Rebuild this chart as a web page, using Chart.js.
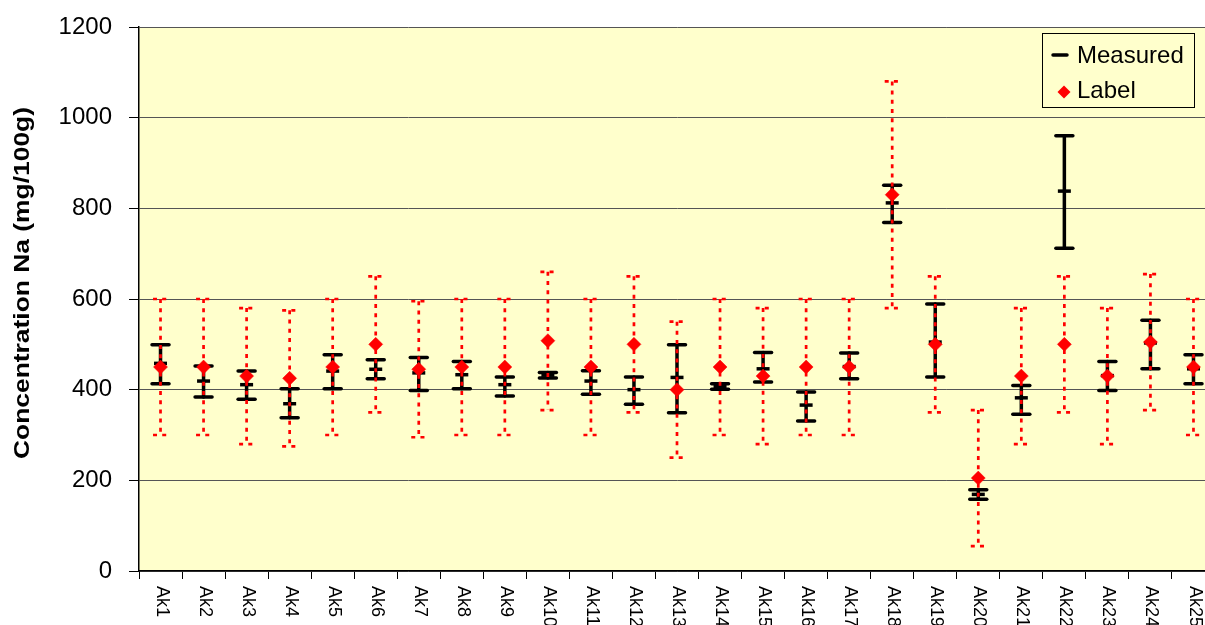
<!DOCTYPE html>
<html>
<head>
<meta charset="utf-8">
<script src="https://cdn.jsdelivr.net/npm/chart.js@4.4.1/dist/chart.umd.min.js"></script>
<style>
  html, body { margin: 0; padding: 0; background: #fff; overflow: hidden; width: 1205px; height: 625px; }
  #wrap { position: absolute; left: 0; top: 0; width: 1225px; height: 640px; }
</style>
</head>
<body>
<div id="wrap"><canvas id="chart" width="1225" height="640"></canvas></div>
<script>
// Samples
const categories = ['Ak1','Ak2','Ak3','Ak4','Ak5','Ak6','Ak7','Ak8','Ak9','Ak10','Ak11','Ak12','Ak13',
  'Ak14','Ak15','Ak16','Ak17','Ak18','Ak19','Ak20','Ak21','Ak22','Ak23','Ak24','Ak25'];

// Measured sodium (mg/100g) with its uncertainty interval
const measured     = [458, 419, 411, 369, 441, 445, 437, 433, 411, 432, 419, 400, 427,
                      407, 446, 366, 451, 812, 505, 169, 382, 838, 431, 503, 446];
const measuredLow  = [413, 384, 379, 338, 402, 424, 398, 402, 386, 426, 390, 368, 349,
                      401, 417, 331, 424, 769, 428, 158, 346, 712, 398, 446, 413];
const measuredHigh = [499, 452, 441, 402, 477, 466, 471, 462, 428, 438, 442, 428, 499,
                      413, 482, 395, 481, 851, 589, 179, 409, 960, 462, 553, 477];

// Declared (label) value with its tolerance range
const labelValues  = [450, 450, 430, 425, 450, 500, 445, 450, 450, 508, 450, 500, 400,
                      450, 430, 450, 450, 830, 500, 205, 430, 500, 430, 505, 450];
const labelLow     = [300, 300, 280, 275, 300, 350, 295, 300, 300, 355, 300, 350, 250,
                      300, 280, 300, 300, 580, 350, 55, 280, 350, 280, 355, 300];
const labelHigh    = [600, 600, 580, 575, 600, 650, 595, 600, 600, 660, 600, 650, 550,
                      600, 580, 600, 600, 1080, 650, 355, 580, 650, 580, 655, 600];

const yMin = 0, yMax = 1200, yStep = 200;
const yTitle = 'Concentration Na (mg/100g)';

Chart.defaults.font.family = "'Liberation Sans', Arial, sans-serif";
Chart.defaults.color = '#000';

// Yellow plot area
const plotBackground = {
  id: 'plotBackground',
  beforeDraw(chart) {
    const { ctx, chartArea: a } = chart;
    ctx.save();
    ctx.fillStyle = '#FFFFCC';
    ctx.fillRect(a.left, a.top, a.right - a.left, a.bottom - a.top);
    ctx.restore();
  }
};

// Vertical interval bars with end caps, drawn just below each dataset's points
const intervalBars = {
  id: 'intervalBars',
  beforeDatasetDraw(chart, args) {
    const ds = chart.data.datasets[args.index];
    const bars = ds.interval;
    if (!bars) return;
    const y = chart.scales.y;
    const ctx = chart.ctx;
    ctx.save();
    ctx.strokeStyle = bars.color;
    ctx.lineWidth = bars.width;
    ctx.lineCap = bars.cap;
    ctx.setLineDash(bars.dash);
    args.meta.data.forEach((pt, i) => {
      const x = pt.x;
      const yl = y.getPixelForValue(bars.low[i]);
      const yh = y.getPixelForValue(bars.high[i]);
      ctx.beginPath();
      ctx.moveTo(x, yh); ctx.lineTo(x, yl);
      ctx.stroke();
      ctx.beginPath();
      ctx.moveTo(x - bars.capHalf, yh); ctx.lineTo(x + bars.capHalf, yh);
      ctx.stroke();
      ctx.beginPath();
      ctx.moveTo(x - bars.capHalf, yl); ctx.lineTo(x + bars.capHalf, yl);
      ctx.stroke();
    });
    ctx.restore();
  }
};

// Rotated category names, axis title and boxed legend
const annotations = {
  id: 'annotations',
  afterDraw(chart) {
    const { ctx, chartArea: a } = chart;
    const x = chart.scales.x;
    ctx.save();
    ctx.fillStyle = '#000';
    ctx.font = "18px 'Liberation Sans', Arial, sans-serif";
    ctx.textAlign = 'left';
    ctx.textBaseline = 'middle';
    categories.forEach((c, i) => {
      const px = x.getPixelForValue(i);
      ctx.save();
      ctx.translate(px + 1, a.bottom + 15);
      ctx.rotate(Math.PI / 2);
      ctx.fillText(c, 0, 0);
      ctx.restore();
    });

    // y-axis title
    ctx.save();
    ctx.translate(23, 283);
    ctx.rotate(-Math.PI / 2);
    ctx.scale(1.2, 1);
    ctx.font = "bold 22px 'Liberation Sans', Arial, sans-serif";
    ctx.textAlign = 'center';
    ctx.textBaseline = 'middle';
    ctx.fillText(yTitle, 0, 0);
    ctx.restore();

    // legend
    const lx = 1042, ly = 33, lw = 152, lh = 74;
    ctx.fillStyle = '#FFFFCC';
    ctx.fillRect(lx, ly, lw, lh);
    ctx.strokeStyle = '#000';
    ctx.lineWidth = 1;
    ctx.strokeRect(lx + 0.5, ly + 0.5, lw, lh);

    ctx.beginPath();
    ctx.lineWidth = 3.5;
    ctx.lineCap = 'round';
    ctx.moveTo(lx + 11, ly + 22);
    ctx.lineTo(lx + 25, ly + 22);
    ctx.stroke();

    ctx.fillStyle = '#FF0000';
    const dx = lx + 22, dy = ly + 59, r = 6.5;
    ctx.beginPath();
    ctx.moveTo(dx - r, dy); ctx.lineTo(dx, dy - r); ctx.lineTo(dx + r, dy); ctx.lineTo(dx, dy + r);
    ctx.closePath();
    ctx.fill();

    ctx.fillStyle = '#000';
    ctx.font = "24px 'Liberation Sans', Arial, sans-serif";
    ctx.textAlign = 'left';
    ctx.textBaseline = 'middle';
    ctx.fillText(chart.data.datasets[0].label, lx + 35, ly + 23);
    ctx.fillText(chart.data.datasets[1].label, lx + 35, ly + 58);
    ctx.restore();
  }
};

new Chart(document.getElementById('chart'), {
  type: 'line',
  data: {
    labels: categories,
    datasets: [
      {
        label: 'Measured',
        data: measured,
        order: 1,
        showLine: false,
        pointStyle: 'line',
        pointRadius: 6.5,
        pointBorderWidth: 3.5,
        pointBorderColor: '#000',
        pointBackgroundColor: '#000',
        interval: { low: measuredLow, high: measuredHigh, color: '#000', width: 3.5,
                    cap: 'round', dash: [], capHalf: 8.5 }
      },
      {
        label: 'Label',
        data: labelValues,
        order: 0,
        showLine: false,
        pointStyle: 'rectRot',
        pointRadius: 7,
        pointBorderWidth: 0.5,
        pointBorderColor: '#FF0000',
        pointBackgroundColor: '#FF0000',
        interval: { low: labelLow, high: labelHigh, color: '#FF0000', width: 2.7,
                    cap: 'butt', dash: [4, 5.2], capHalf: 7.5 }
      }
    ]
  },
  options: {
    responsive: false,
    animation: false,
    devicePixelRatio: 1,
    events: [],
    layout: { padding: { left: 0, top: 27, right: 8, bottom: 0 } },
    plugins: { legend: { display: false }, tooltip: { enabled: false } },
    scales: {
      x: {
        type: 'category',
        offset: true,
        ticks: { display: false },
        grid: { offset: true, drawOnChartArea: false, drawTicks: true, tickLength: 8,
                tickColor: '#000', tickWidth: 1 },
        border: { color: '#000', width: 1.5 },
        afterFit(scale) { scale.height = 69; }
      },
      y: {
        min: yMin,
        max: yMax,
        ticks: { stepSize: yStep, color: '#000', font: { size: 24 }, padding: 17,
                 callback: (v) => String(v) },
        grid: { color: '#555', lineWidth: 1, tickLength: 10, tickColor: '#000' },
        border: { color: '#000', width: 1.5 },
        afterFit(scale) {
          scale.width = 139;
          scale.paddingTop = 14;
          scale.paddingBottom = 14;
        }
      }
    }
  },
  plugins: [plotBackground, intervalBars, annotations]
});
</script>
</body>
</html>
